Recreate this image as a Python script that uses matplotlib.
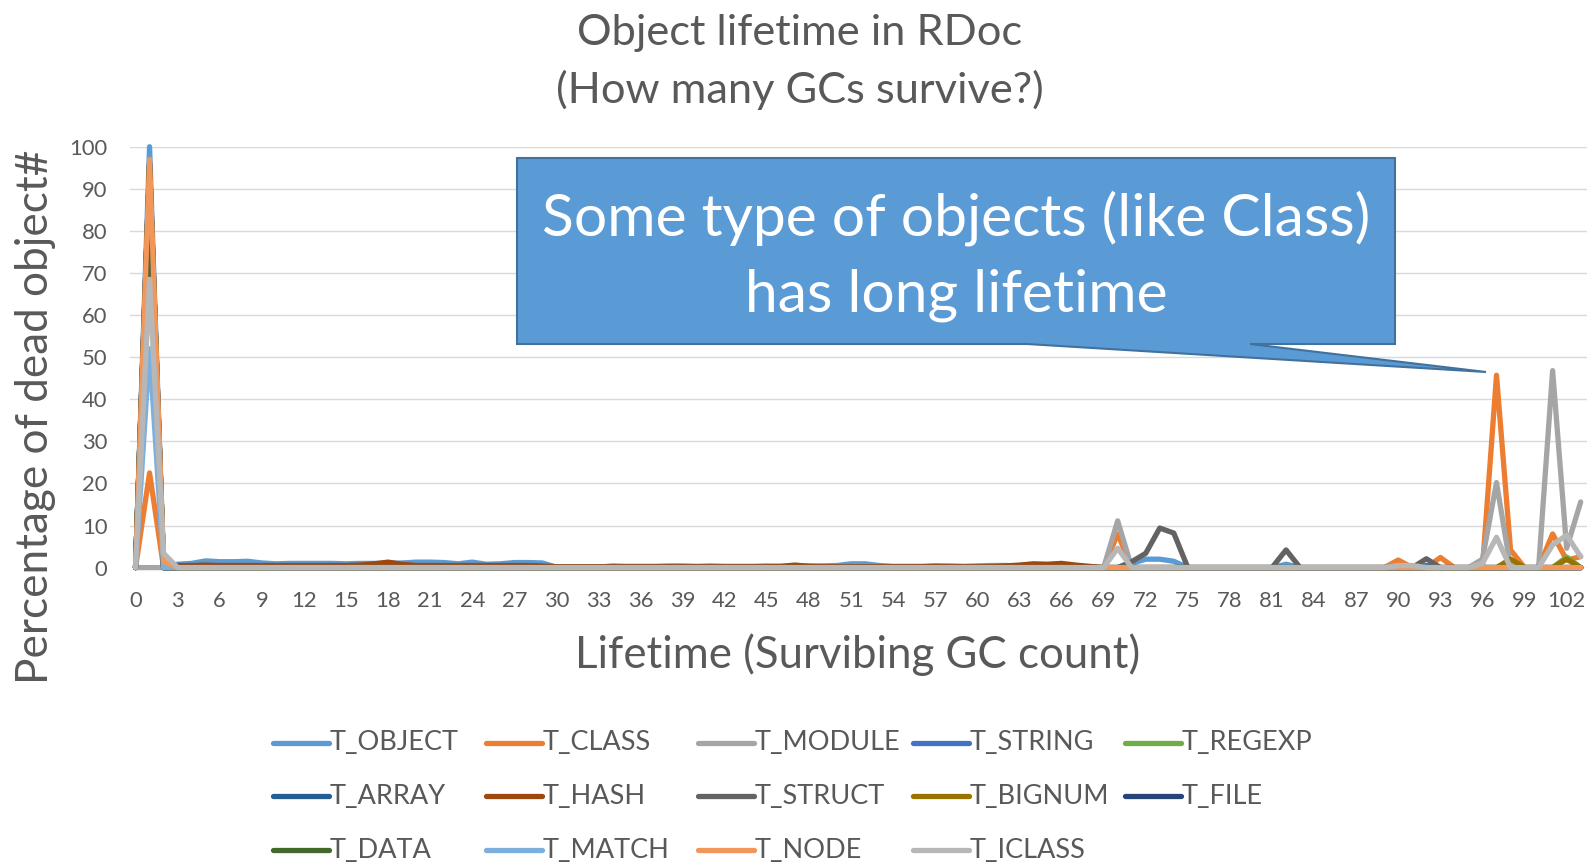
import numpy as np
import matplotlib
matplotlib.use("Agg")
import matplotlib.pyplot as plt
from matplotlib.lines import Line2D
from matplotlib.patches import Polygon

plt.rcParams['font.family'] = ['Lato', 'DejaVu Sans']

# ---------------- data ----------------
lifetimes = list(range(104))
xtick_labels = [str(v) for v in range(0, 103, 3)]

series_names = ["T_OBJECT", "T_CLASS", "T_MODULE", "T_STRING", "T_REGEXP",
                "T_ARRAY", "T_HASH", "T_STRUCT", "T_BIGNUM", "T_FILE",
                "T_DATA", "T_MATCH", "T_NODE", "T_ICLASS"]
series_colors = ["#5B9BD5", "#ED7D31", "#A5A5A5", "#4472C4", "#70AD47",
                 "#255E91", "#9E480E", "#636363", "#997300", "#264478",
                 "#43682B", "#7CAFDD", "#F1975A", "#B7B7B7"]

t_object = [0, 100, 0, 0.8, 1.0, 1.6, 1.4, 1.4, 1.5, 1.1,
            0.9, 1.0, 1.0, 1.0, 1.0, 0.9, 1.0, 1.0, 1.0, 1.1,
            1.3, 1.3, 1.2, 0.9, 1.3, 0.8, 0.9, 1.2, 1.2, 1.1,
            0.1, 0.1, 0.1, 0.1, 0.4, 0.3, 0.3, 0.3, 0.4, 0.4,
            0.3, 0.4, 0.3, 0.3, 0.3, 0.4, 0.3, 0.3, 0.4, 0.4,
            0.5, 0.9, 0.9, 0.5, 0.3, 0.3, 0.3, 0.4, 0.4, 0.3,
            0.4, 0.5, 0.5, 0.4, 0.3, 0.3, 0.3, 0.3, 0.2, 0,
            0, 1.0, 2.0, 2.0, 1.5, 0, 0, 0, 0, 0,
            0, 0, 0.8, 0, 0, 0, 0, 0, 0, 0,
            0, 0, 0.3, 0, 0, 0, 0, 0, 0, 0,
            0, 0, 0, 0]

t_hash = [0, 77, 0.5, 0.5, 0.5, 0.6, 0.5, 0.5, 0.5, 0.5,
          0.5, 0.5, 0.5, 0.5, 0.5, 0.5, 0.6, 0.9, 1.3, 0.8,
          0.5, 0.5, 0.5, 0.5, 0.5, 0.5, 0.5, 0.5, 0.5, 0.4,
          0.2, 0.2, 0.2, 0.2, 0.2, 0.2, 0.2, 0.2, 0.2, 0.2,
          0.2, 0.2, 0.2, 0.2, 0.2, 0.2, 0.3, 0.6, 0.3, 0.2,
          0.2, 0.2, 0.2, 0.2, 0.2, 0.2, 0.2, 0.3, 0.2, 0.2,
          0.2, 0.2, 0.4, 0.6, 0.9, 0.8, 1.0, 0.6, 0.3, 0,
          0, 0, 0, 0, 0, 0, 0, 0, 0, 0,
          0, 0, 0, 0, 0, 0, 0, 0, 0, 0,
          0, 0, 0, 0, 0, 0, 0, 0, 0, 0,
          0, 0, 0, 0]

# sparse series: lifetime index -> percentage (all other lifetimes are 0)
t_class_idx = [1, 70, 90, 93, 97, 98, 101, 102, 103]
t_class_val = [22.5, 8.0, 1.8, 2.4, 45.7, 4.2, 8.0, 1.8, 2.6]
t_module_idx = [70, 96, 97, 101, 102, 103]
t_module_val = [11.1, 2.0, 20.2, 46.8, 4.6, 15.6]
t_string_idx = [1, 92]
t_string_val = [96.0, 0.5]
t_regexp_idx = [1, 102]
t_regexp_val = [95.0, 2.5]
t_array_idx = [1]
t_array_val = [96.0]
t_struct_idx = [1, 71, 72, 73, 74, 82, 92]
t_struct_val = [94.0, 1.4, 3.4, 9.4, 8.2, 4.2, 2.1]
t_bignum_idx = [1, 98, 102]
t_bignum_val = [95.0, 2.0, 2.0]
t_file_idx = [1]
t_file_val = [96.0]
t_data_idx = [1]
t_data_val = [95.0]
t_match_idx = [1]
t_match_val = [52.0]
t_node_idx = [1, 2]
t_node_val = [97.0, 1.5]
t_iclass_idx = [1, 2, 70, 90, 91, 96, 97, 101, 102, 103]
t_iclass_val = [68.5, 3.4, 4.6, 0.5, 0.5, 1.0, 7.2, 5.4, 7.7, 2.6]


def expand(idx, val):
    arr = np.zeros(len(lifetimes))
    arr[idx] = val
    return arr


series_values = [
    np.array(t_object, dtype=float),
    expand(t_class_idx, t_class_val),
    expand(t_module_idx, t_module_val),
    expand(t_string_idx, t_string_val),
    expand(t_regexp_idx, t_regexp_val),
    expand(t_array_idx, t_array_val),
    np.array(t_hash, dtype=float),
    expand(t_struct_idx, t_struct_val),
    expand(t_bignum_idx, t_bignum_val),
    expand(t_file_idx, t_file_val),
    expand(t_data_idx, t_data_val),
    expand(t_match_idx, t_match_val),
    expand(t_node_idx, t_node_val),
    expand(t_iclass_idx, t_iclass_val),
]

# ---------------- figure ----------------
W, H = 1587, 865
fig = plt.figure(figsize=(W / 100, H / 100), dpi=100)
fig.patch.set_facecolor("white")

ax_left_px, ax_right_px = 129.5, 1587
ax_top_px, ax_bot_px = 146.7, 567.6
ax = fig.add_axes([ax_left_px / W, 1 - ax_bot_px / H,
                   (ax_right_px - ax_left_px) / W, (ax_bot_px - ax_top_px) / H])

text_color = "#595959"
lw = 3.8
for name, col, vals in zip(series_names, series_colors, series_values):
    ax.plot(lifetimes, vals, color=col, lw=lw, solid_joinstyle="round",
            solid_capstyle="round", clip_on=False, zorder=3)

ax.set_xlim(-0.43, 103.45)
ax.set_ylim(0, 100)
ax.set_yticks(range(0, 101, 10))
ax.set_xticks(range(0, 103, 3))
ax.set_xticklabels(xtick_labels)
ax.grid(axis="y", color="#D9D9D9", lw=1.0, zorder=0)
ax.set_axisbelow(True)
for s in ax.spines.values():
    s.set_visible(False)
ax.tick_params(axis="both", length=0, labelsize=15.8, labelcolor=text_color)
ax.tick_params(axis="y", pad=16)
ax.tick_params(axis="x", pad=17)

renderer = fig.canvas.get_renderer()


def fit(t, target, use_height=False):
    bb = t.get_window_extent(renderer)
    cur = bb.height if use_height else bb.width
    t.set_fontsize(t.get_fontsize() * target / cur)


def px_text(x, y, s, **kw):
    return fig.text(x / W, 1 - y / H, s, ha="center", va="center", **kw)


# title
t1 = px_text(799.5, 32.5, "Object lifetime in RDoc", fontsize=24, color=text_color)
fit(t1, 445)
t2 = px_text(799.5, 90, "(How many GCs survive?)", fontsize=t1.get_fontsize(), color=text_color)

# axis labels
xl = px_text(858, 655, "Lifetime (Survibing GC count)", fontsize=28, color=text_color)
fit(xl, 565)
yl = px_text(35.4, 417, "Percentage of dead object#", fontsize=28, color=text_color, rotation=90)
fit(yl, 534, use_height=True)

# legend (5 fixed-width columns, 3 rows)
col_x = [273, 486, 698, 913, 1125]
row_y = [743, 796, 850]
handle_len = 56
leg_texts = []
for i, (name, col) in enumerate(zip(series_names, series_colors)):
    r, c = divmod(i, 5)
    x0, y0 = col_x[c], row_y[r]
    fig.add_artist(Line2D([x0 / W, (x0 + handle_len) / W], [1 - y0 / H, 1 - y0 / H],
                          color=col, lw=lw, solid_capstyle="round"))
    leg_texts.append(fig.text((x0 + handle_len + 1) / W, 1 - y0 / H, name,
                              ha="left", va="center", fontsize=20, color=text_color))
fit(leg_texts[0], 128.5)
for t in leg_texts[1:]:
    t.set_fontsize(leg_texts[0].get_fontsize())

# callout
callout_px = [(517, 158), (1395, 158), (1395, 344), (1250, 344), (1486, 372),
              (1027, 344), (517, 344)]
poly = Polygon([(x / W, 1 - y / H) for x, y in callout_px], closed=True,
               transform=fig.transFigure, facecolor="#5B9BD5", edgecolor="#41719C",
               lw=1.5, zorder=10)
fig.add_artist(poly)
c1 = px_text(956, 218, "Some type of objects (like Class)", fontsize=36, color="white", zorder=11)
fit(c1, 829)
c2 = px_text(956, 295, "has long lifetime", fontsize=c1.get_fontsize(), color="white", zorder=11)

fig.savefig("out.png", dpi=100)
